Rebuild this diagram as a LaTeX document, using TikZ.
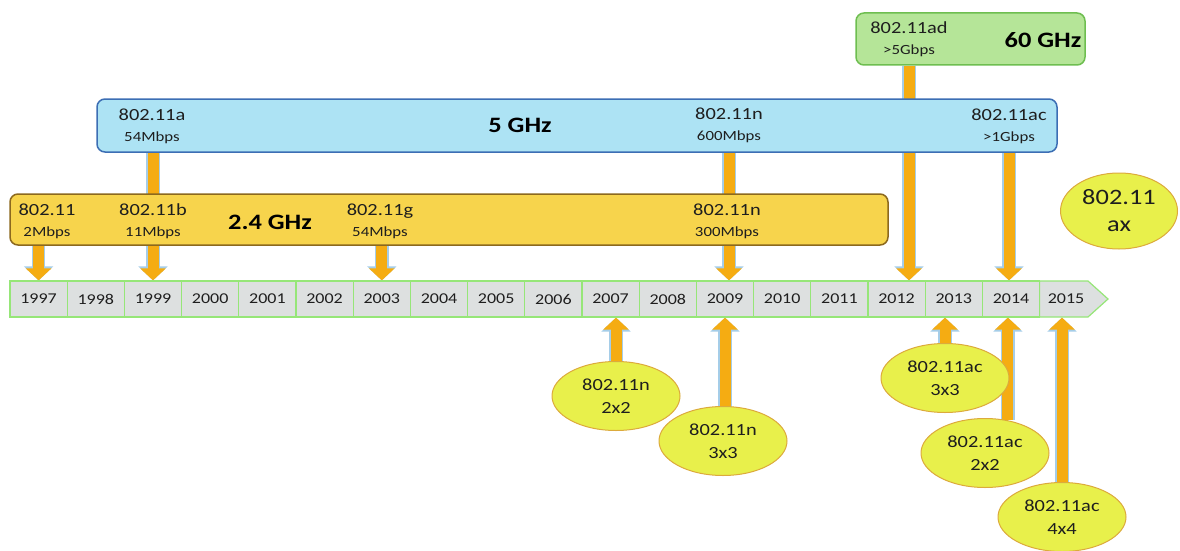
\documentclass[tikz,border=0pt]{standalone}
\usepackage{fontspec}
\setmainfont{Carlito}[FakeStretch=1.2]
\usetikzlibrary{arrows.meta,shapes.geometric}
\definecolor{bandyellow}{RGB}{247,212,76}
\definecolor{bandyellowline}{RGB}{140,105,30}
\definecolor{bandblue}{RGB}{173,227,244}
\definecolor{bandblueline}{RGB}{60,110,180}
\definecolor{bandgreen}{RGB}{181,229,152}
\definecolor{bandgreenline}{RGB}{110,190,80}
\definecolor{yrgray}{RGB}{221,224,224}
\definecolor{yrline}{RGB}{150,230,120}
\definecolor{arrorange}{RGB}{245,172,18}
\definecolor{arrblue}{RGB}{165,205,232}
\definecolor{ovalfill}{RGB}{232,240,75}
\definecolor{ovalline}{RGB}{220,170,60}
\definecolor{txt}{RGB}{30,30,30}
\pgfdeclarelayer{bg}
\pgfsetlayers{bg,main}
\newcommand{\rate}[1]{{\fontsize{14}{15}\selectfont #1}}

\begin{document}
\begin{tikzpicture}[x=1pt,y=-1pt,
  band/.style={draw,line width=1.5pt,rounded corners=8pt},
  std/.style={align=center,text=txt,font=\fontsize{17}{21}\selectfont,inner sep=0pt},
  ghz/.style={text=black,font=\bfseries\fontsize{22}{24}\selectfont},
  yrbox/.style={draw=yrline,fill=yrgray,line width=1.2pt,minimum width=57.2pt,
    minimum height=36pt,inner sep=0pt,text=txt,font=\fontsize{15}{16}\selectfont},
  oval/.style={ellipse,draw=ovalline,fill=ovalfill,line width=1pt,minimum width=128pt,
    minimum height=69pt,inner sep=0pt,align=center,text=txt,font=\fontsize{17}{23}\selectfont},
  blk/.style={draw=arrorange,line width=11pt,-{Triangle[width=25pt,length=12pt]},
    preaction={draw=arrblue,line width=13.5pt,-{Triangle[width=28.5pt,length=14pt]}}}]
  \useasboundingbox (0,0) rectangle (1180,551);

  % bands
  \node[band,draw=bandgreenline,fill=bandgreen,minimum width=229pt,minimum height=52pt] (band60) at (970.5,39) {};
  \node[band,draw=bandblueline,fill=bandblue,minimum width=960pt,minimum height=53pt] (band5) at (577,125.5) {};
  \node[band,draw=bandyellowline,fill=bandyellow,minimum width=878pt,minimum height=51pt] (band24) at (449,219.5) {};

  \node[std] (s80211) at (47,221) {802.11\\\rate{2Mbps}};
  \node[std] (s80211b) at (153,221) {802.11b\\\rate{11Mbps}};
  \node[ghz] (ghz24) at (270,222) {2.4 GHz};
  \node[std] (s80211g) at (380,221) {802.11g\\\rate{54Mbps}};
  \node[std] (s80211nb) at (727,221) {802.11n\\\rate{300Mbps}};
  \node[std] (s80211a) at (152,126) {802.11a\\\rate{54Mbps}};
  \node[ghz] (ghz5) at (520,125) {5 GHz};
  \node[std] (s80211n) at (729,125) {802.11n\\\rate{600Mbps}};
  \node[std] (s80211ac) at (1009,126) {802.11ac\\\rate{>1Gbps}};
  \node[std] (s80211ad) at (909,39) {802.11ad\\\rate{>5Gbps}};
  \node[ghz] (ghz60) at (1043,40) {60 GHz};

  % time line
  \foreach \yr [count=\i from 0] in {1997,...,2014}
    \node[yrbox] (yr\yr) at (38.6+57.2*\i,299) {\yr};
  \node[yrbox,draw=none,fill=none,minimum width=48pt] (yr2015) at (1066,299) {2015};

  % mimo ovals
  \node[oval] (n22) at (616,396) {802.11n\\2x2};
  \node[oval] (n33) at (723,441) {802.11n\\3x3};
  \node[oval] (ac33) at (945,378) {802.11ac\\3x3};
  \node[oval] (ac22) at (985,453) {802.11ac\\2x2};
  \node[oval] (ac44) at (1062,517) {802.11ac\\4x4};
  \node[oval,minimum width=117pt,minimum height=76pt,font=\fontsize{22}{27}\selectfont] (ax) at (1119,211) {802.11\\ax};

  \begin{pgfonlayer}{bg}
    \fill[white] (0,0) rectangle (1180,551);
    \filldraw[draw=yrline,fill=yrgray,line width=1.2pt] (1039.6,281) -- (1088,281) -- (1108,299)
      -- (1088,317) -- (1039.6,317) -- cycle;
    \draw[blk] (yr1997 |- band24.south) -- (yr1997.north);
    \draw[blk] (yr1999 |- band5.south) -- (yr1999.north);
    \draw[blk] (yr2003 |- band24.south) -- (yr2003.north);
    \draw[blk] (s80211n |- band5.south) -- (s80211n |- yr2009.north);
    \draw[blk] (s80211ad |- band60.south) -- (s80211ad |- yr2012.north);
    \draw[blk] (s80211ac |- band5.south) -- (s80211ac |- yr2014.north);
    \draw[blk] (n22) -- (n22 |- yr2007.south);
    \draw[blk] (yr2009 |- n33) -- (yr2009.south);
    \draw[blk] (ac33) -- (ac33 |- yr2013.south);
    \draw[blk] (ac22.55) -- (ac22.55 |- yr2014.south);
    \draw[blk] (ac44) -- (ac44 |- yr2015.south);
  \end{pgfonlayer}
\end{tikzpicture}
\end{document}
